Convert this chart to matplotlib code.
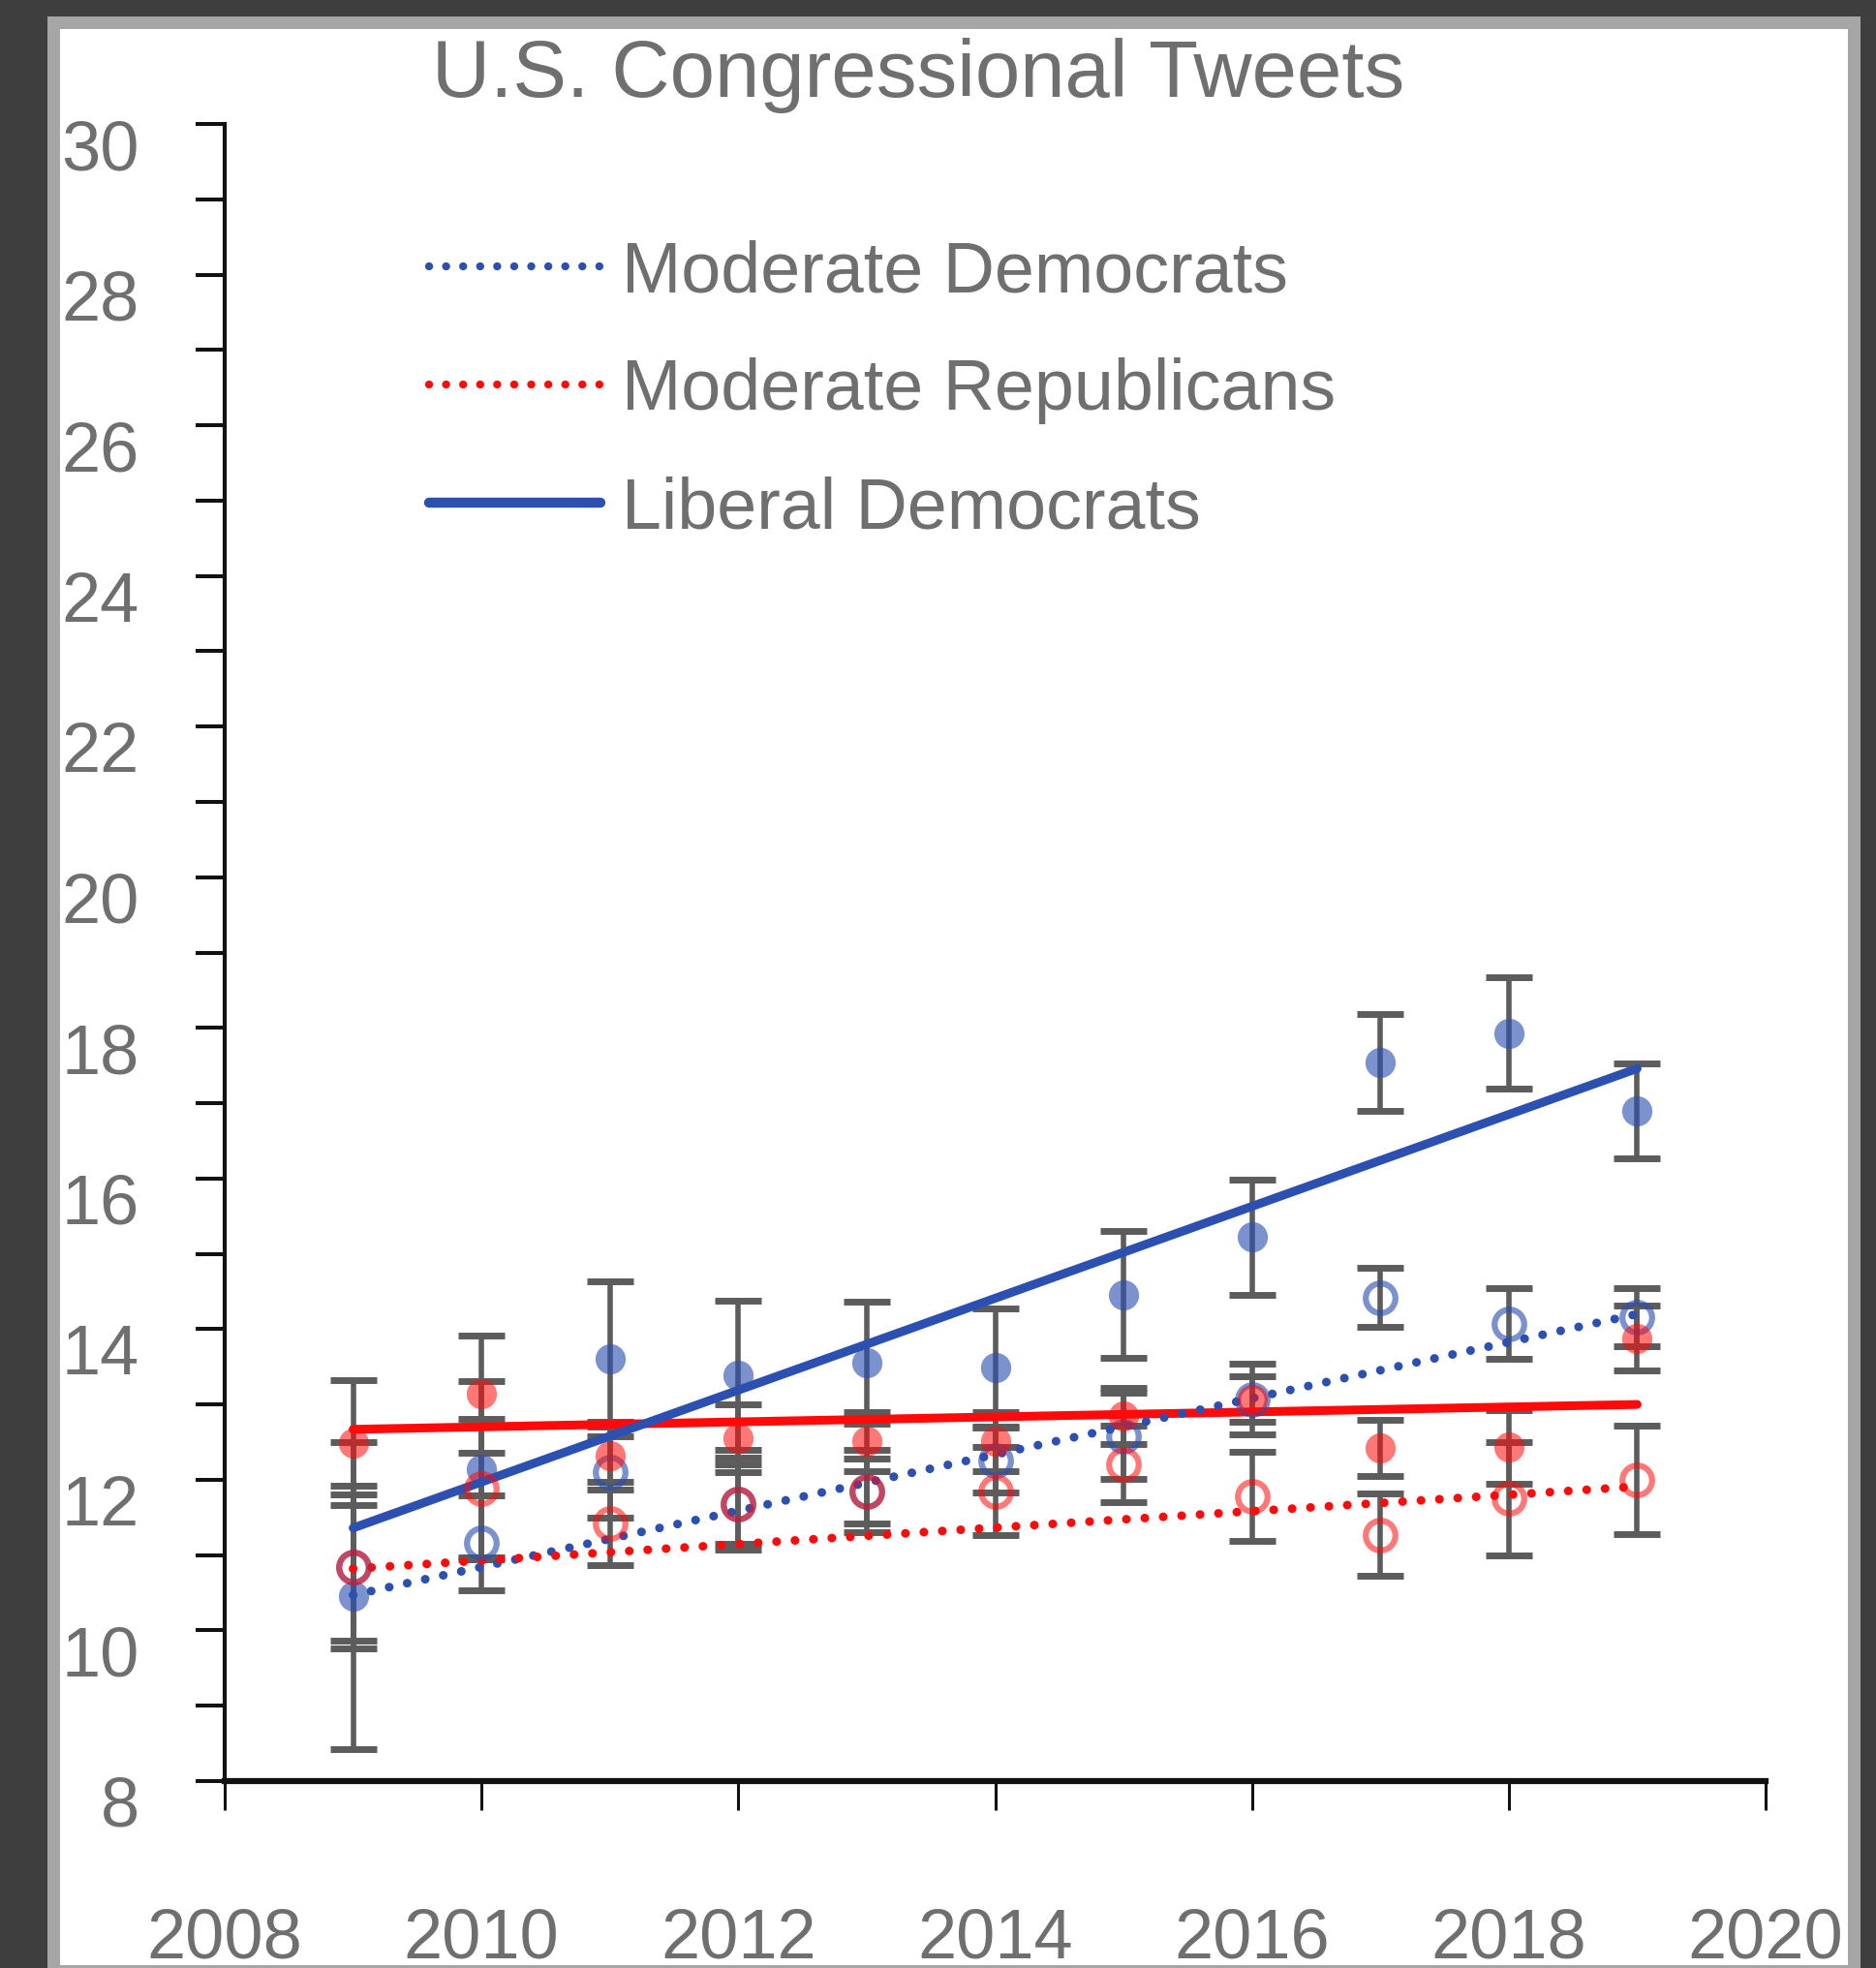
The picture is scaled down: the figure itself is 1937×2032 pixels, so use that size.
import matplotlib
matplotlib.use("Agg")
import matplotlib.pyplot as plt
from matplotlib.lines import Line2D
from matplotlib.patches import Rectangle
from matplotlib.ticker import MultipleLocator
from matplotlib.transforms import ScaledTranslation

# ---- data -------------------------------------------------------------
years = [2009, 2010, 2011, 2012, 2013, 2014, 2015, 2016, 2017, 2018, 2019]

liberal_dem = [10.46, 12.14, 13.61, 13.39, 13.56, 13.49, 14.46, 15.22, 17.54, 17.93, 16.90]
liberal_dem_err = [2.04, 1.17, 1.03, 0.99, 0.81, 0.79, 0.84, 0.77, 0.64, 0.74, 0.63]

conservative_rep = [12.49, 13.14, 12.32, 12.55, 12.51, 12.51, 12.85, 13.07, 12.42, 12.44, 13.88]
conservative_rep_err = [0.83, 0.78, 0.45, 0.45, 0.39, 0.39, 0.37, 0.47, 0.37, 0.49, 0.43]

moderate_dem = [10.84, 11.16, 12.10, 11.68, 11.85, 12.26, 12.58, 13.07, 14.42, 14.07, 14.16]
moderate_dem_err = [0.97, 0.63, 0.60, 0.61, 0.55, 0.43, 0.57, 0.30, 0.39, 0.47, 0.39]

moderate_rep = [10.84, 11.88, 11.42, 11.68, 11.85, 11.85, 12.21, 11.78, 11.27, 11.75, 12.00]
moderate_rep_err = [1.08, 0.93, 0.55, 0.53, 0.43, 0.58, 0.51, 0.59, 0.55, 0.75, 0.72]

# linear trends (value at first and last year)
trend_years = [2009, 2019]
liberal_dem_trend = [11.36, 17.46]
conservative_rep_trend = [12.67, 13.00]
moderate_dem_trend = [10.47, 14.20]
moderate_rep_trend = [10.82, 11.91]

legend_labels = ["Moderate Democrats", "Moderate Republicans", "Liberal Democrats"]
title = "U.S. Congressional Tweets"
x_ticks = [2008, 2010, 2012, 2014, 2016, 2018, 2020]

# ---- styling ----------------------------------------------------------
plt.rcParams["font.family"] = ["Liberation Sans", "DejaVu Sans"]
BLUE = "#2c50b2"
RED = "#ff0a0a"
GRAY = "#5c5c5c"
TXT = "#6f6f6f"
AXC = "#111111"
DOT = (0, (0.01, 2.1))

W, H = 1937, 2032
fig = plt.figure(figsize=(W / 100, H / 100), dpi=100)
fig.patch.set_facecolor("#3e3e3e")
fig.patches.append(Rectangle((49 / W, 0), (1921 - 49) / W, (H - 17) / H,
                             transform=fig.transFigure, facecolor="#a6a6a6",
                             edgecolor="none", zorder=-2))
fig.patches.append(Rectangle((62 / W, 3 / H), (1908 - 62) / W, (2029 - 30) / H,
                             transform=fig.transFigure, facecolor="white",
                             edgecolor="none", zorder=-1))

ax = fig.add_axes([232 / W, 193 / H, (1823 - 232) / W, (1839 - 128) / H])
ax.set_facecolor("none")

# error bars
for vals, errs in [(liberal_dem, liberal_dem_err), (conservative_rep, conservative_rep_err),
                   (moderate_dem, moderate_dem_err), (moderate_rep, moderate_rep_err)]:
    ax.errorbar(years, vals, yerr=errs, fmt="none", ecolor=GRAY, elinewidth=4.0,
                capsize=17, capthick=5.0, zorder=2)

# trend lines
ax.plot(trend_years, conservative_rep_trend, color=RED, lw=6.5, solid_capstyle="round", zorder=3)
ax.plot(trend_years, liberal_dem_trend, color=BLUE, lw=6.5, solid_capstyle="round", zorder=3)
ax.plot(trend_years, moderate_dem_trend, color=BLUE, lw=6.5, ls=DOT, dash_capstyle="round", zorder=3)
ax.plot(trend_years, moderate_rep_trend, color=RED, lw=6.5, ls=DOT, dash_capstyle="round", zorder=3)

# yearly means
ax.plot(years, liberal_dem, "o", ms=22.5, mfc=BLUE, mec="none", alpha=0.62, zorder=4)
ax.plot(years, moderate_dem, "o", ms=22, mfc="none", mec=BLUE, mew=4.5, alpha=0.62, zorder=4)
ax.plot(years, conservative_rep, "o", ms=22.5, mfc=RED, mec="none", alpha=0.55, zorder=4)
ax.plot(years, moderate_rep, "o", ms=22, mfc="none", mec=RED, mew=4.5, alpha=0.55, zorder=4)

# axes
ax.set_xlim(2008, 2020)
ax.set_ylim(8, 30)
ax.set_xticks(x_ticks)
ax.set_xticklabels([str(v) for v in x_ticks])
ax.set_yticks(list(range(8, 31, 2)))
ax.yaxis.set_minor_locator(MultipleLocator(1))
for s in ["top", "right"]:
    ax.spines[s].set_visible(False)
ax.spines["left"].set_linewidth(3.0)
ax.spines["left"].set_color(AXC)
ax.spines["bottom"].set_linewidth(4.5)
ax.spines["bottom"].set_color(AXC)
ax.tick_params(axis="y", which="both", direction="out", length=21.6, width=2.9, color=AXC)
ax.tick_params(axis="y", which="major", labelsize=52, labelcolor=TXT, pad=42)
ax.tick_params(axis="x", which="major", direction="out", length=21.6, width=2.2, color=AXC,
               labelsize=52, labelcolor=TXT, pad=72)

shift = ScaledTranslation(0, -0.21, fig.dpi_scale_trans)
for lab in ax.get_yticklabels():
    lab.set_transform(lab.get_transform() + shift)

# legend
handles = [
    Line2D([], [], color=BLUE, lw=6, ls=DOT, dash_capstyle="round"),
    Line2D([], [], color=RED, lw=6, ls=DOT, dash_capstyle="round"),
    Line2D([], [], color=BLUE, lw=7.5, solid_capstyle="round"),
]
leg = ax.legend(handles, legend_labels, loc="upper left",
                bbox_to_anchor=(443 / W, 1 - 247 / H), bbox_transform=fig.transFigure,
                frameon=False, borderpad=0, borderaxespad=0, fontsize=53,
                handlelength=2.4, handletextpad=0.3, labelspacing=0.72)
for t in leg.get_texts():
    t.set_color(TXT)

fig.text(948 / W, 1 - 100 / H, title, ha="center", va="baseline", fontsize=60, color=TXT)

fig.savefig("out.png", dpi=100, facecolor=fig.get_facecolor())
